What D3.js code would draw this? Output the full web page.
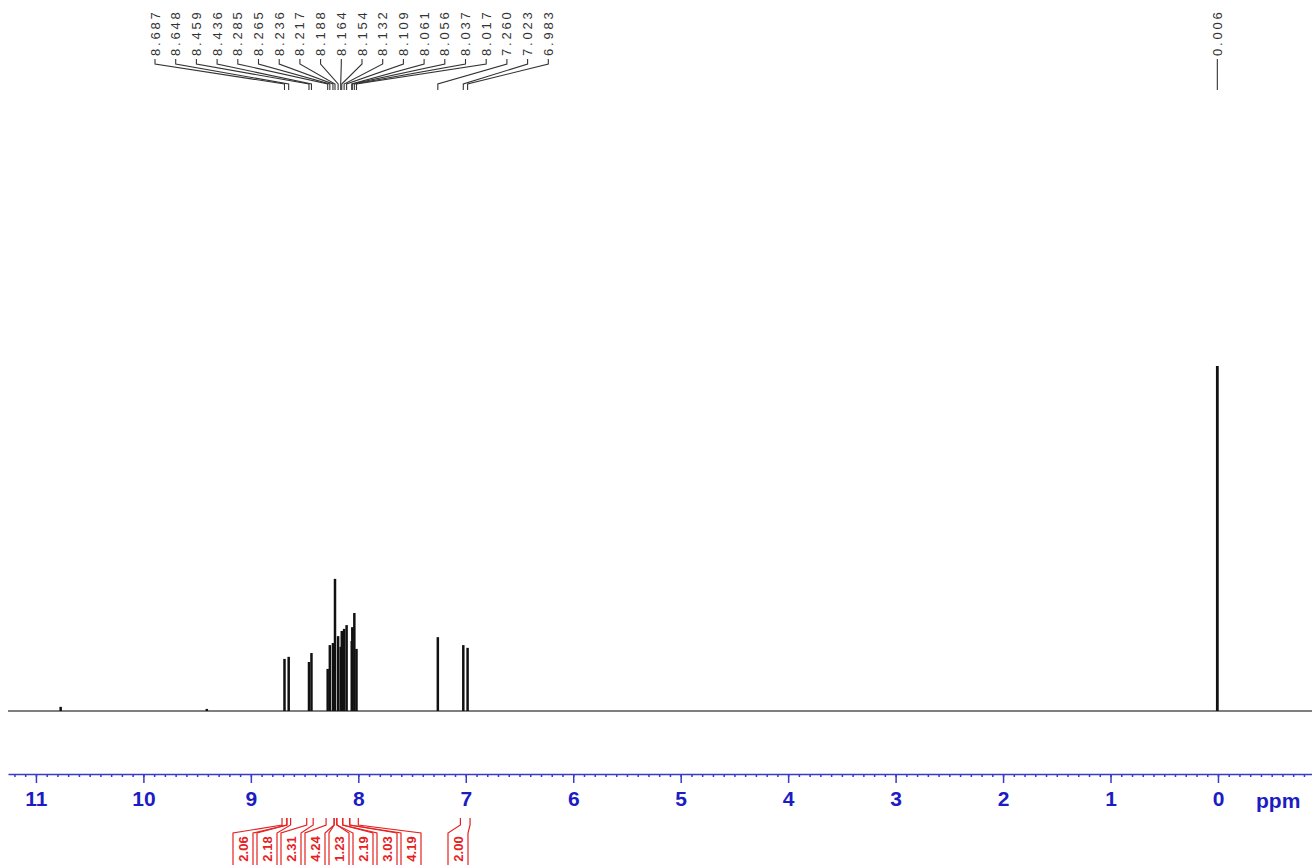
<!DOCTYPE html>
<html>
<head>
<meta charset="utf-8">
<title>1H NMR spectrum</title>
<style>
body { margin: 0; background: #fff; }
.base { stroke: #555; stroke-width: 1.6; fill: none; }
.peak { stroke: #111; stroke-width: 2.5; }
.plabel { font: 13px "Liberation Sans", Arial, sans-serif; fill: #333; letter-spacing: 2.8px; }
.leader { stroke: #333; stroke-width: 1.1; fill: none; }
.axis path, .axis line { stroke: #3a3ac8; stroke-width: 1.5; }
.axis text { font: bold 21px "Liberation Sans", Arial, sans-serif; fill: #1c1cc4; }
.unit { font: bold 21px "Liberation Sans", Arial, sans-serif; fill: #1c1cc4; }
.integ { stroke: #e52222; stroke-width: 1.2; fill: none; }
.ilabel { font: bold 13px "Liberation Sans", Arial, sans-serif; fill: #e52222; }
</style>
</head>
<body>
<svg width="1312" height="865"></svg>
<script src="https://cdn.jsdelivr.net/npm/d3@7/dist/d3.min.js"></script>
<script>

// labelled peaks (ppm) and their heights (TMS = 100)
var shifts  = [8.687, 8.648, 8.459, 8.436, 8.285, 8.265, 8.236, 8.217, 8.188, 8.164, 8.154,
               8.132, 8.109, 8.061, 8.056, 8.037, 8.017, 7.260, 7.023, 6.983];
var heights = [15.1, 15.7, 14.2, 16.8, 12.2, 19.1, 19.7, 38.3, 21.7, 18.6, 23.2,
               23.8, 24.9, 20.3, 24.3, 28.4, 18.0, 21.4, 19.1, 18.3];

// reference peak
var tmsShift = 0.006;
var tmsHeight = 100;

// small unlabelled bumps
var smallShifts  = [10.77, 9.41];
var smallHeights = [1.2, 0.6];

// integrals
var integrals    = ["2.06", "2.18", "2.31", "4.24", "1.23", "2.19", "3.03", "4.19", "2.00"];
var integralFrom = [8.71, 8.665, 8.48, 8.30, 8.225, 8.20, 8.145, 8.08, 7.05];
var integralTo   = [8.665, 8.63, 8.42, 8.225, 8.20, 8.145, 8.08, 8.00, 6.96];

var majorTicks = d3.range(0, 12);

var svg = d3.select("svg"),
    width = +svg.attr("width"),
    height = +svg.attr("height");

var x = d3.scaleLinear().domain([11.26, -0.875]).range([8, 1312]);
var y = d3.scaleLinear().domain([0, 100]).range([711, 366]);

// baseline
svg.append("path")
    .attr("class", "base")
    .attr("d", d3.line().x(function(d) { return x(d); }).y(y(0))(x.domain()));

// peaks drawn as sticks
var allShifts = shifts.concat(smallShifts, [tmsShift]);
var allHeights = heights.concat(smallHeights, [tmsHeight]);

svg.selectAll(".peak")
    .data(allShifts)
  .enter().append("line")
    .attr("class", "peak")
    .attr("x1", function(d) { return x(d); })
    .attr("x2", function(d) { return x(d); })
    .attr("y1", y(0))
    .attr("y2", function(d, i) { return y(allHeights[i]); })
    .style("stroke-width", function(d) { return d === tmsShift ? 2.8 : null; });

// peak labels, spread evenly over the top
var labelStart = 155, labelStep = 20.7;
var labelX = function(i) { return labelStart + i * labelStep; };

svg.selectAll(".plabel")
    .data(shifts)
  .enter().append("text")
    .attr("class", "plabel")
    .attr("transform", function(d, i) { return "translate(" + labelX(i) + ",56) rotate(-90)"; })
    .attr("dy", "0.35em")
    .text(function(d) { return d.toFixed(3); });

svg.selectAll(".leader")
    .data(shifts)
  .enter().append("path")
    .attr("class", "leader")
    .attr("d", function(d, i) {
      return "M" + labelX(i) + ",59V64L" + x(d) + ",84V90";
    });

svg.append("text")
    .attr("class", "plabel")
    .attr("transform", "translate(" + x(tmsShift) + ",56) rotate(-90)")
    .attr("dy", "0.35em")
    .text(tmsShift.toFixed(3));

svg.append("path")
    .attr("class", "leader")
    .attr("d", "M" + x(tmsShift) + ",59V90");

// axis
var axisG = svg.append("g")
    .attr("class", "axis")
    .attr("transform", "translate(0,774)");

axisG.call(d3.axisBottom(x)
    .tickValues(d3.range(-8, 113).map(function(d) { return d / 10; }))
    .tickSize(3).tickSizeOuter(0).tickFormat(""));

axisG.append("g").call(d3.axisBottom(x)
    .tickValues(majorTicks)
    .tickSize(9).tickSizeOuter(0).tickPadding(8)
    .tickFormat(d3.format("d")))
  .select(".domain").remove();

svg.append("text")
    .attr("class", "unit")
    .attr("x", 1256)
    .attr("y", 808)
    .text("ppm");

// integrals
var boxStart = 243, boxStep = 24, boxHalf = 10;
var boxX = function(i) { return i < 8 ? boxStart + i * boxStep : 458; };

var ig = svg.selectAll(".ig")
    .data(integrals)
  .enter().append("g");

ig.append("path")
    .attr("class", "integ")
    .attr("d", function(d, i) {
      var a = x(integralFrom[i]), b = x(integralTo[i]), c = boxX(i);
      return "M" + a + ",818V825L" + (c - boxHalf) + ",833V866" +
             "M" + b + ",818V825L" + (c + boxHalf) + ",833V866";
    });

ig.append("text")
    .attr("class", "ilabel")
    .attr("text-anchor", "middle")
    .attr("transform", function(d, i) { return "translate(" + boxX(i) + ",849) rotate(-90)"; })
    .attr("dy", "0.36em")
    .text(function(d) { return d; });

</script>
</body>
</html>
